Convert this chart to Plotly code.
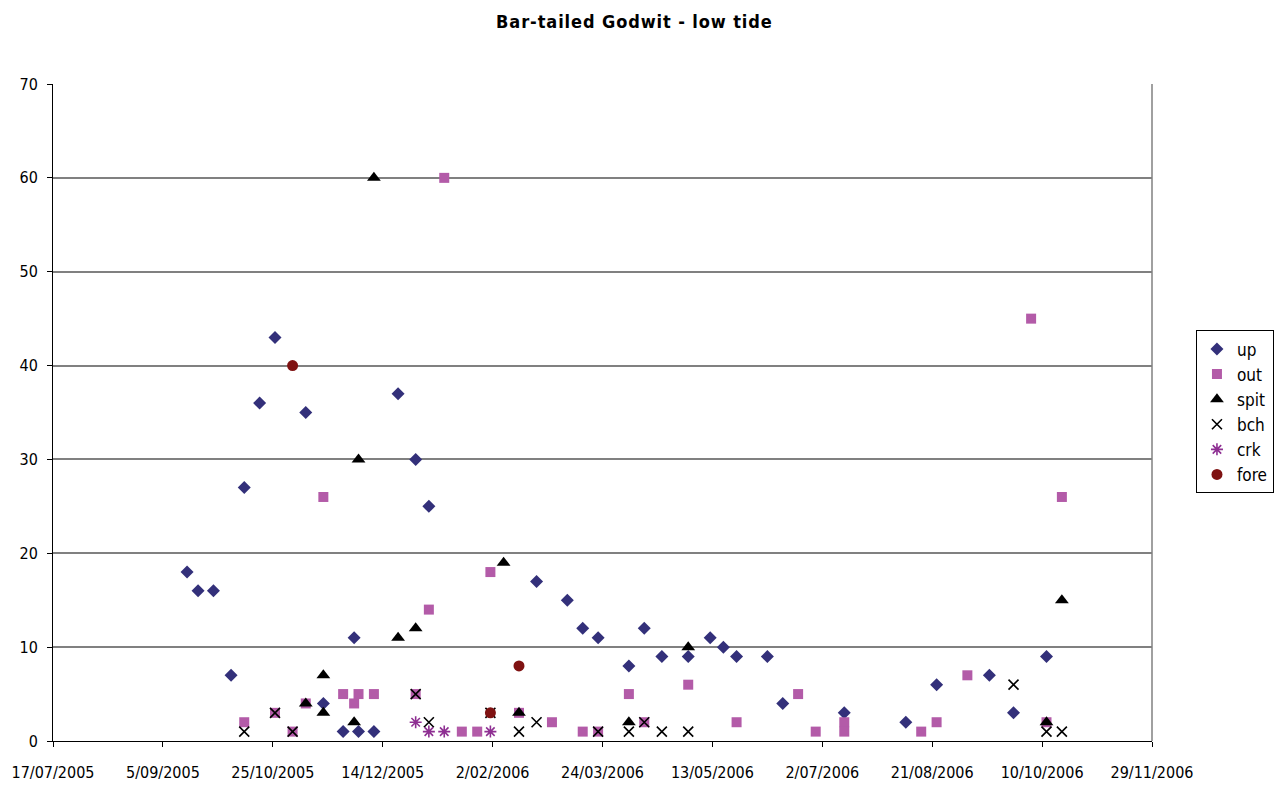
import plotly.graph_objects as go

# Bar-tailed Godwit counts at low tide, by survey date and site
up_dates = ["2005-09-16", "2005-09-21", "2005-09-28", "2005-10-06", "2005-10-12",
            "2005-10-19", "2005-10-26", "2005-11-09", "2005-11-17", "2005-11-26",
            "2005-12-01", "2005-12-03", "2005-12-10", "2005-12-21", "2005-12-29",
            "2006-01-04", "2006-02-22", "2006-03-08", "2006-03-15", "2006-03-22",
            "2006-04-05", "2006-04-12", "2006-04-20", "2006-05-02", "2006-05-12",
            "2006-05-18", "2006-05-24", "2006-06-07", "2006-06-14", "2006-07-12",
            "2006-08-09", "2006-08-23", "2006-09-16", "2006-09-27", "2006-10-12"]
up_counts = [18, 16, 16, 7, 27, 36, 43, 35, 4, 1, 11, 1, 1, 37, 30,
             25, 17, 15, 12, 11, 8, 12, 9, 9, 11, 10, 9, 9, 4, 3,
             2, 6, 7, 3, 9]

out_dates = ["2005-10-12", "2005-10-26", "2005-11-03", "2005-11-09", "2005-11-17",
             "2005-11-26", "2005-12-01", "2005-12-03", "2005-12-10", "2005-12-29",
             "2006-01-04", "2006-01-11", "2006-01-19", "2006-01-26", "2006-02-01",
             "2006-02-14", "2006-03-01", "2006-03-15", "2006-03-22", "2006-04-05",
             "2006-04-12", "2006-05-02", "2006-05-24", "2006-06-21", "2006-06-29",
             "2006-07-12", "2006-07-12", "2006-08-16", "2006-08-23", "2006-09-06",
             "2006-10-05", "2006-10-12", "2006-10-19"]
out_counts = [2, 3, 1, 4, 26, 5, 4, 5, 5, 5, 14, 60, 1, 1, 18,
              3, 2, 1, 1, 5, 2, 6, 2, 5, 1, 2, 1, 1, 2, 7,
              45, 2, 26]

spit_dates = ["2005-11-09", "2005-11-17", "2005-11-17", "2005-12-01", "2005-12-03",
              "2005-12-10", "2005-12-21", "2005-12-29", "2006-02-07", "2006-02-14",
              "2006-04-05", "2006-05-02", "2006-10-12", "2006-10-19"]
spit_counts = [4, 7, 3, 2, 30, 60, 11, 12, 19, 3, 2, 10, 2, 15]

bch_dates = ["2005-10-12", "2005-10-26", "2005-11-03", "2005-12-29", "2006-01-04",
             "2006-02-01", "2006-02-14", "2006-02-22", "2006-03-22", "2006-04-05",
             "2006-04-12", "2006-04-20", "2006-05-02", "2006-09-27", "2006-10-12",
             "2006-10-19"]
bch_counts = [1, 3, 1, 5, 2, 3, 1, 2, 1, 1, 2, 1, 1, 6, 1, 1]

crk_dates = ["2005-12-29", "2006-01-04", "2006-01-11", "2006-02-01"]
crk_counts = [2, 1, 1, 1]

fore_dates = ["2005-11-03", "2006-02-01", "2006-02-14"]
fore_counts = [40, 3, 8]

tick_dates = ["2005-07-17", "2005-09-05", "2005-10-25", "2005-12-14", "2006-02-02",
              "2006-03-24", "2006-05-13", "2006-07-02", "2006-08-21", "2006-10-10",
              "2006-11-29"]
tick_labels = ["17/07/2005", "5/09/2005", "25/10/2005", "14/12/2005", "2/02/2006",
               "24/03/2006", "13/05/2006", "2/07/2006", "21/08/2006", "10/10/2006",
               "29/11/2006"]

FONT = "DejaVu Sans Condensed, Liberation Sans, sans-serif"

series = [
    ("up", up_dates, up_counts, dict(symbol="diamond", size=10, color="#33307A")),
    ("out", out_dates, out_counts, dict(symbol="square", size=10, color="#B35BA8")),
    ("spit", spit_dates, spit_counts, dict(symbol="triangle-up", size=12, color="#000000")),
    ("bch", bch_dates, bch_counts, dict(symbol="x-thin-open", size=10, color="#000000",
                                        line=dict(color="#000000", width=1.6))),
    ("crk", crk_dates, crk_counts, dict(symbol="asterisk-open", size=10, color="#8E2F92",
                                        line=dict(color="#8E2F92", width=1.6))),
    ("fore", fore_dates, fore_counts, dict(symbol="circle", size=11, color="#7F1212")),
]

fig = go.Figure()
for name, xs, ys, marker in series:
    fig.add_trace(go.Scatter(x=xs, y=ys, mode="markers", name=name, marker=marker))

fig.update_layout(
    width=1279, height=786,
    margin=dict(l=53, r=127, t=84, b=45, autoexpand=False),
    paper_bgcolor="white", plot_bgcolor="white",
    font=dict(family=FONT, size=16, color="#000000"),
    title=dict(text='<span style="letter-spacing:0.9px">Bar-tailed Godwit - low tide</span>',
               x=0.496, xanchor="center", y=0.973, yanchor="middle",
               font=dict(family=FONT, size=18, color="#000000", weight=600)),
    showlegend=True,
    legend=dict(x=1.04, xanchor="left", y=0.625, yanchor="top",
                bordercolor="#000000", borderwidth=1, bgcolor="white",
                font=dict(family=FONT, size=17), tracegroupgap=0,
                itemwidth=30),
)

fig.update_xaxes(
    type="date", range=["2005-07-17", "2006-11-29"],
    tickvals=tick_dates, ticktext=tick_labels,
    showgrid=False, zeroline=False, automargin=False,
    showline=True, linecolor="#000000", linewidth=1,
    ticks="outside", ticklen=5, tickcolor="#000000",
    ticklabelstandoff=12,
    tickfont=dict(family=FONT, size=16),
)
fig.update_yaxes(
    range=[0, 70], dtick=10,
    showgrid=True, gridcolor="#808080", gridwidth=1.5,
    zeroline=False, automargin=False,
    showline=True, linecolor="#000000", linewidth=1,
    ticks="outside", ticklen=5, tickcolor="#000000",
    ticklabelstandoff=6,
    tickfont=dict(family=FONT, size=16),
)

# grey frame edge on the right of the plotting area
fig.add_shape(type="line", xref="paper", yref="paper", x0=1, x1=1, y0=0, y1=1,
              line=dict(color="#808080", width=1.5))

fig.write_html("out.html")
